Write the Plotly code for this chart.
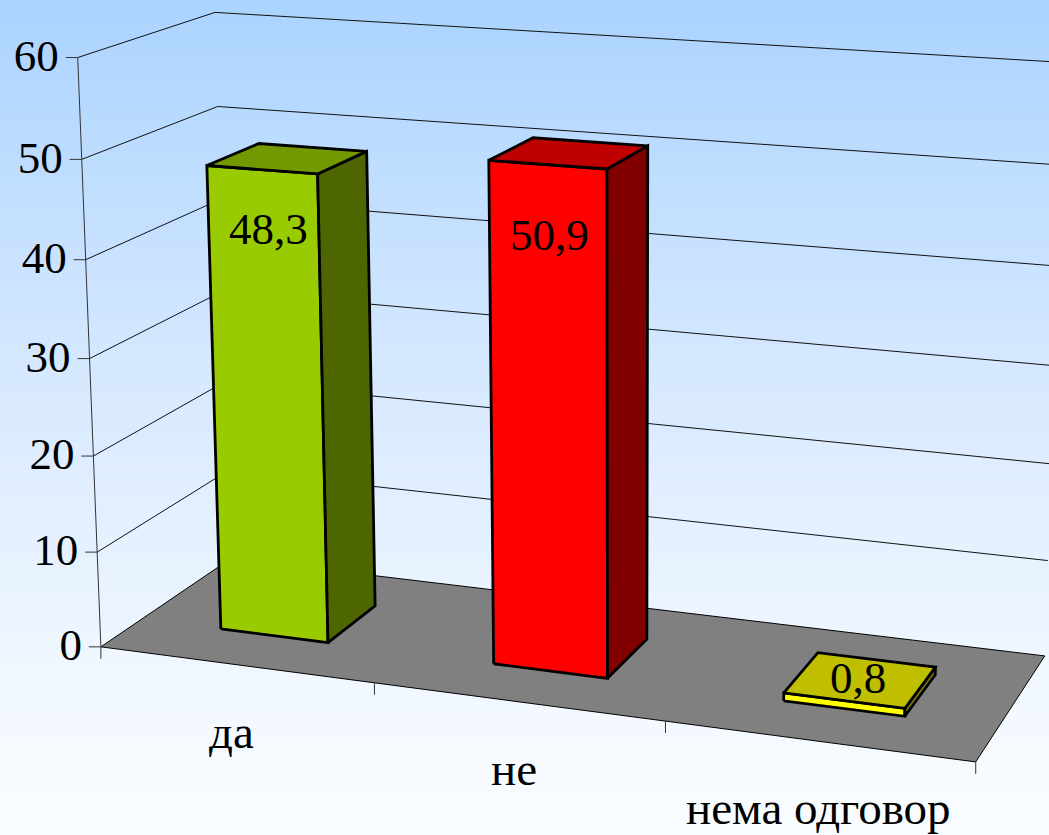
import numpy as np
import plotly.graph_objects as go

categories = ["да", "не", "нема одговор"]
values = [48.3, 50.9, 0.8]
tick_values = [0, 10, 20, 30, 40, 50, 60]
front_colors = ["#99CC00", "#FF0000", "#FFFF00"]
top_colors = ["#739900", "#BF0000", "#BFBF00"]
side_colors = ["#4D6600", "#800000", "#808000"]
label_dx = [7, 2, 14]
label_dy = [59, 70, -23]
cat_dx = [-4, -4, 0]
cat_dy = 67

# Chart space (category, value, depth) and where it lands on the canvas
cal_chart = np.array([
    [0, 60, 0], [0, 50, 0], [0, 40, 0], [0, 10, 0], [0, 0, 0], [1, 0, 0], [2, 0, 0], [3, 0, 0],
    [0, 60, 1], [0, 50, 1], [0, 0, 1], [3, 0, 1], [3, 60, 1], [3, 50, 1], [3, 40, 1], [3, 30, 1],
    [3, 20, 1], [3, 10, 1]], float)
cal_canvas = np.array([
    [77.7, 58.3], [81.7, 159], [86, 259], [96.7, 552], [100, 646.7], [376, 683], [665.7, 721.7], [975, 761.7],
    [215, 12.3], [217.7, 107.3], [231, 558], [1044.7, 655.7], [1064, 61.2], [1060, 164.6], [1057, 267.6],
    [1054, 365.6], [1051, 463.5], [1048, 561]], float)


def fit_projection():
    rows = []
    for (u, v, d), (x, y) in zip(cal_chart, cal_canvas):
        a = [u / 3, v / 60, d, 1]
        x, y = x / 1000, y / 1000
        rows.append(a + [0, 0, 0, 0] + [-x * c for c in a])
        rows.append([0, 0, 0, 0] + a + [-y * c for c in a])
    return np.linalg.svd(np.array(rows))[2][-1].reshape(3, 4)


P = fit_projection()


def proj(u, v, d):
    h = P @ np.array([u / 3, v / 60, d, 1.0])
    return h[0] / h[2] * 1000, h[1] / h[2] * 1000


fig = go.Figure()

# background wash
fig.add_trace(go.Heatmap(x=[0, 1049], y=[0, 835], z=[[0, 0], [1, 1]], zmin=0, zmax=1, zsmooth="best",
                         colorscale=[[0, "rgb(170,211,255)"], [0.216, "rgb(192,222,255)"], [0.48, "rgb(217,234,255)"],
                                     [0.8, "rgb(240,247,255)"], [1, "rgb(250,253,255)"]],
                         showscale=False, hoverinfo="skip"))


def poly(pts, fill, lw, color="black"):
    xy = [proj(*p) for p in pts]
    xy.append(xy[0])
    fig.add_trace(go.Scatter(x=[p[0] for p in xy], y=[p[1] for p in xy], mode="lines", fill="toself",
                             fillcolor=fill, line=dict(color=color, width=lw), hoverinfo="skip", showlegend=False))


def seg(pts, lw=1, color="#111111"):
    xy = [proj(*p) for p in pts]
    fig.add_trace(go.Scatter(x=[p[0] for p in xy], y=[p[1] for p in xy], mode="lines",
                             line=dict(color=color, width=lw), hoverinfo="skip", showlegend=False))


n = len(categories)
poly([(0, 0, 0), (n, 0, 0), (n, 0, 1), (0, 0, 1)], "#808080", 1)
for t in tick_values[1:]:
    seg([(0, t, 0), (0, t, 1), (n, t, 1)])
seg([(0, tick_values[-1], 0), (0, 0, 0)], 1, "#333333")

# tick marks
for i in range(n + 1):
    x0, y0 = proj(i, 0, 0)
    fig.add_trace(go.Scatter(x=[x0, x0], y=[y0, y0 + 12], mode="lines", line=dict(color="#333333", width=1),
                             hoverinfo="skip", showlegend=False))
label_x, label_y = [], []
for t in tick_values:
    x0, y0 = proj(0, t, 0)
    fig.add_trace(go.Scatter(x=[x0 - 12, x0], y=[y0, y0], mode="lines", line=dict(color="#333333", width=1),
                             hoverinfo="skip", showlegend=False))
    label_x.append(x0 - 19)
    label_y.append(y0 + 2)
fig.add_trace(go.Scatter(x=label_x, y=label_y, mode="text", text=[str(t) for t in tick_values],
                         textposition="middle left", textfont=dict(family="Liberation Serif", size=45, color="black"),
                         hoverinfo="skip", showlegend=False))

# bars
for i, val in enumerate(values):
    a, b, f, k = i + 0.3, i + 0.7, 0.3, 0.7
    poly([(a, 0, f), (b, 0, f), (b, val, f), (a, val, f)], front_colors[i], 2.8)
    poly([(b, 0, f), (b, 0, k), (b, val, k), (b, val, f)], side_colors[i], 2.8)
    poly([(a, val, f), (b, val, f), (b, val, k), (a, val, k)], top_colors[i], 2.8)
    x0, y0 = proj(i + 0.5, val, 0.3)
    fig.add_annotation(x=x0, y=y0, xref="x", yref="y", text=f"{val:.1f}".replace(".", ","), showarrow=False,
                       xshift=label_dx[i], yshift=-label_dy[i], font=dict(family="Liberation Serif", size=45, color="black"))
    x1, y1 = proj(i + 0.5, 0, 0)
    fig.add_annotation(x=x1, y=y1, xref="x", yref="y", text=categories[i], showarrow=False,
                       xshift=cat_dx[i], yshift=-cat_dy, font=dict(family="Liberation Serif", size=47, color="black"))

fig.update_layout(width=1049, height=835, margin=dict(l=0, r=0, t=0, b=0), showlegend=False,
                  paper_bgcolor="white", plot_bgcolor="rgba(0,0,0,0)",
                  xaxis=dict(range=[0, 1049], visible=False, fixedrange=True),
                  yaxis=dict(range=[835, 0], visible=False, fixedrange=True))
fig.write_html("out.html", config={"displayModeBar": False},
               post_script="document.body.style.margin='0';document.body.style.overflow='hidden';")
